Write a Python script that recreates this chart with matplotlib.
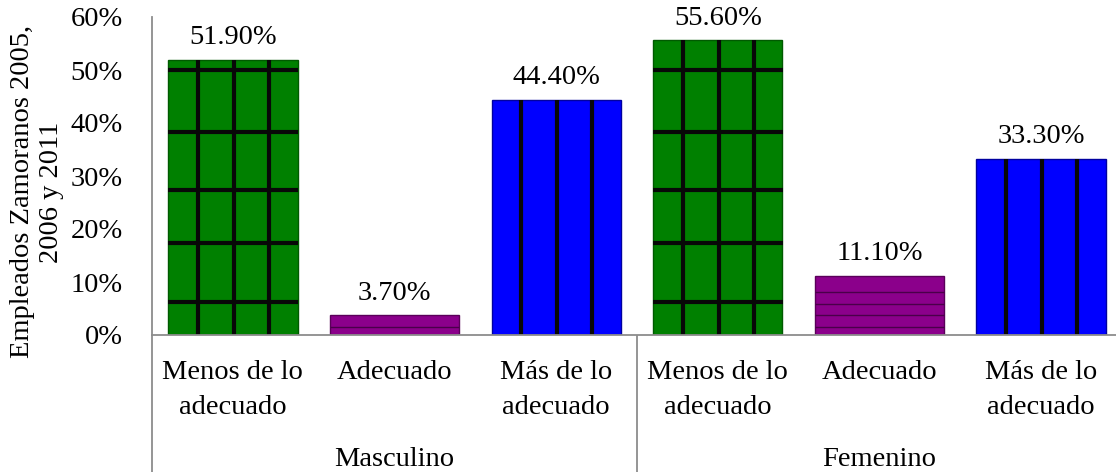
import matplotlib
matplotlib.use("Agg")
import matplotlib.pyplot as plt

# Data
groups = ["Masculino", "Femenino"]
categories = ["Menos de lo\nadecuado", "Adecuado", "Más de lo\nadecuado"]
values = [51.9, 3.7, 44.4, 55.6, 11.1, 33.3]  # percent
yticks = [0, 10, 20, 30, 40, 50, 60]
ylabel = "Empleados Zamoranos 2005,\n2006 y 2011"

# Styling per category
fill_colors = ["#008000", "#8B008B", "#0000FF"]
edge_colors = ["#005a00", "#5a005a", "#0000a0"]
line_colors = ["#080808", "#4A004A", "#080808"]

# Decorative pattern layout (fractions of bar width, levels in percent)
vline_fracs = {0: [0.23, 0.51, 0.78], 2: [0.23, 0.51, 0.78]}
hline_levels = {0: [6.3, 17.3, 27.3, 38.3, 50.0],
                1: [1.5, 3.7, 5.9, 8.1, 10.3]}
line_widths = {0: 3.0, 1: 1.0, 2: 3.0}

plt.rcParams["font.family"] = ["Liberation Serif", "DejaVu Serif"]
FS = 20.5
BW = 0.8

fig = plt.figure(figsize=(11.16, 4.72), dpi=100)
ax = fig.add_axes([152 / 1116, 1 - 335 / 472, (1122 - 152) / 1116, (335 - 17) / 472])

n = len(values)
xs = list(range(n))
for i, v in enumerate(values):
    k = i % len(categories)
    h = v / 100
    ax.bar(xs[i], h, width=BW, color=fill_colors[k],
           edgecolor=edge_colors[k], linewidth=1.0, zorder=2)
    left = xs[i] - BW / 2
    for f in vline_fracs.get(k, []):
        ax.plot([left + f * BW] * 2, [0, h], color=line_colors[k],
                lw=line_widths[k], solid_capstyle="butt", zorder=3)
    for lv in hline_levels.get(k, []):
        if lv < v - 0.8:
            ax.plot([left, left + BW], [lv / 100] * 2, color=line_colors[k],
                    lw=line_widths[k], solid_capstyle="butt", zorder=3)
    ax.annotate(f"{v:.2f}%", (xs[i], h), xytext=(0, 7),
                textcoords="offset points", ha="center", va="bottom",
                fontsize=FS, color="black")

ax.set_xlim(-0.5, n - 0.5)
ax.set_ylim(0, 0.6)
ax.set_yticks([t / 100 for t in yticks])
ax.set_yticklabels([f"{t}%" for t in yticks], fontsize=FS)
ax.tick_params(axis="y", length=0, pad=21)
ax.set_xticks(xs)
ax.set_xticklabels(categories * len(groups), fontsize=FS, linespacing=1.5)
ax.tick_params(axis="x", length=0, pad=18)

for s in ["top", "right"]:
    ax.spines[s].set_visible(False)
for s in ["left", "bottom"]:
    ax.spines[s].set_color("#8c8c8c")
    ax.spines[s].set_linewidth(1.3)
    ax.spines[s].set_zorder(4)

# Group separators extending below the axis
ext = -137 / 318 * 0.6
ncat = len(categories)
for g in range(len(groups)):
    xsep = g * ncat - 0.5
    ax.plot([xsep, xsep], [0, ext], color="#8c8c8c", lw=1.3,
            clip_on=False, solid_capstyle="butt")
    ax.text(g * ncat + (ncat - 1) / 2, ext, groups[g],
            ha="center", va="bottom", fontsize=FS)

fig.text(37 / 1116, 1 - 192 / 472, ylabel, rotation=90, ha="center",
         va="center", fontsize=FS, linespacing=1.2)

fig.savefig("out.png", dpi=100)
